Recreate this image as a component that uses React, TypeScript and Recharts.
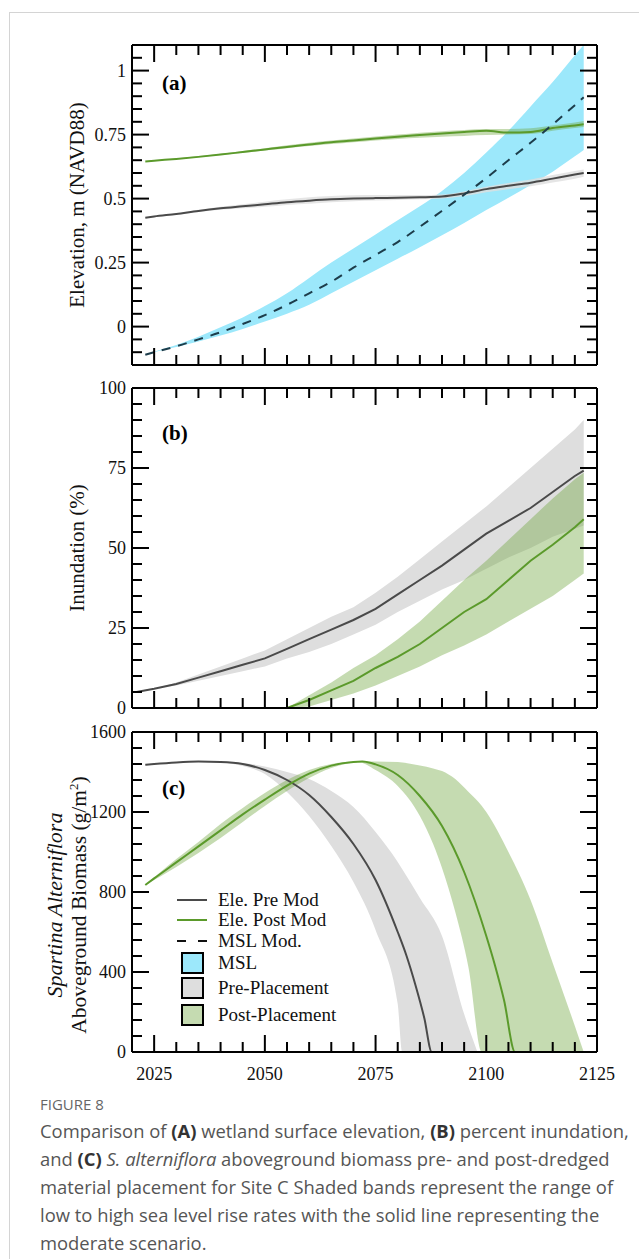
import React from 'react';
import { ComposedChart, Line, Area, XAxis, YAxis, Legend, ReferenceLine } from 'recharts';

const SERIF = '"Liberation Serif", "Times New Roman", serif';
const SANS = '"Open Sans", "Noto Sans", sans-serif';

const GREEN = '#5b9a2b';
const DARK = '#4a4a4a';
const DASH = '#1d3d4b';
const CYAN = '#9ce8fb';
const GRAY_FILL = '#dedede';
const GREEN_FILL = '#6ea53c';

// shared x axis (years)
const X_MIN = 2020;
const X_MAX = 2125;
const xTicks = [2025, 2030, 2035, 2040, 2045, 2050, 2055, 2060, 2065, 2070, 2075, 2080, 2085, 2090, 2095, 2100, 2105, 2110, 2115, 2120, 2125];
const xLabels = [2025, 2050, 2075, 2100, 2125];

// (a) elevation
const aYears = [2023, 2025, 2030, 2035, 2040, 2045, 2050, 2055, 2060, 2065, 2070, 2075, 2080, 2085, 2090, 2095, 2100, 2105, 2110, 2115, 2120, 2122];
const mslLow = [-0.11, -0.1, -0.08, -0.058, -0.035, -0.009, 0.02, 0.05, 0.085, 0.13, 0.175, 0.22, 0.265, 0.31, 0.357, 0.405, 0.455, 0.503, 0.553, 0.605, 0.665, 0.69];
const mslMod = [-0.11, -0.1, -0.077, -0.05, -0.022, 0.01, 0.045, 0.085, 0.13, 0.175, 0.23, 0.28, 0.33, 0.39, 0.452, 0.515, 0.58, 0.65, 0.718, 0.79, 0.865, 0.896];
const mslHigh = [-0.11, -0.098, -0.072, -0.04, -0.003, 0.036, 0.08, 0.13, 0.19, 0.25, 0.305, 0.36, 0.415, 0.47, 0.53, 0.6, 0.68, 0.765, 0.86, 0.955, 1.06, 1.1];
const preA = [0.425, 0.43, 0.44, 0.452, 0.462, 0.47, 0.478, 0.486, 0.492, 0.497, 0.5, 0.502, 0.503, 0.505, 0.508, 0.52, 0.537, 0.55, 0.562, 0.578, 0.594, 0.6];
const preALow = [0.425, 0.43, 0.438, 0.448, 0.456, 0.462, 0.468, 0.475, 0.48, 0.486, 0.49, 0.493, 0.495, 0.497, 0.5, 0.51, 0.525, 0.537, 0.548, 0.563, 0.578, 0.585];
const preAHigh = [0.425, 0.431, 0.443, 0.456, 0.468, 0.478, 0.488, 0.497, 0.505, 0.51, 0.513, 0.514, 0.514, 0.514, 0.516, 0.528, 0.546, 0.561, 0.575, 0.592, 0.608, 0.614];
const postA = [0.645, 0.648, 0.655, 0.663, 0.672, 0.682, 0.692, 0.702, 0.711, 0.72, 0.727, 0.735, 0.742, 0.748, 0.754, 0.76, 0.765, 0.758, 0.76, 0.776, 0.786, 0.79];
const postALow = [0.645, 0.648, 0.655, 0.662, 0.67, 0.679, 0.688, 0.697, 0.705, 0.713, 0.72, 0.727, 0.733, 0.738, 0.742, 0.745, 0.748, 0.75, 0.752, 0.765, 0.776, 0.78];
const postAHigh = [0.645, 0.649, 0.657, 0.666, 0.675, 0.686, 0.697, 0.708, 0.718, 0.727, 0.735, 0.743, 0.75, 0.757, 0.763, 0.768, 0.772, 0.772, 0.775, 0.786, 0.797, 0.803];
const aTickLabels = [0, 0.25, 0.5, 0.75, 1];

// (b) inundation
const bYears = [2021, 2025, 2030, 2035, 2040, 2045, 2050, 2055, 2060, 2065, 2070, 2075, 2080, 2085, 2090, 2095, 2100, 2105, 2110, 2115, 2120, 2122];
const preB = [5, 6, 7.5, 9.5, 11.5, 13.5, 15.5, 18.5, 21.5, 24.5, 27.5, 31, 35.5, 40, 44.5, 49.5, 54.5, 58.5, 62.5, 67.5, 72.5, 74.2];
const preBLow = [5, 6, 7, 8.5, 10, 11.5, 13, 15.5, 17.5, 20, 23, 26, 30, 33.5, 37, 40, 43.5, 47, 50, 53.5, 56, 57];
const preBHigh = [5, 6, 8, 10.5, 13, 15.5, 18, 21.5, 25, 28.5, 31.5, 36, 41, 46.5, 52, 57.5, 63, 69, 75, 81, 87, 90];
const postBYears = [2055, 2060, 2065, 2070, 2075, 2080, 2085, 2090, 2095, 2100, 2105, 2110, 2115, 2120, 2122];
const postB = [0, 2.5, 5.5, 8.5, 12.5, 16, 20, 25, 30, 34, 40, 46, 51, 56.5, 59];
const postBLow = [0, 0.5, 2.5, 4.5, 7, 10, 13, 16.5, 19.5, 23, 27, 31, 35, 40, 42];
const postBHigh = [0, 4, 8, 12.5, 16.5, 21.5, 27, 33.5, 40, 46, 52.5, 59, 65.5, 71.5, 73.5];
const bTickLabels = [0, 25, 50, 75, 100];

// (c) biomass
const preCYears = [2023, 2025, 2030, 2035, 2040, 2045, 2050, 2055, 2060, 2065, 2070, 2075, 2080, 2082, 2084, 2086, 2087.7, 2105];
const preC = [1436, 1440, 1448, 1452, 1450, 1440, 1410, 1360, 1285, 1175, 1040, 860, 600, 480, 335, 170, 0, 0];
const preBandYears = [2023, 2030, 2035, 2040, 2045, 2050, 2055, 2060, 2065, 2070, 2075, 2080, 2081, 2085, 2090, 2095, 2098];
const preCLow = [1436, 1448, 1452, 1448, 1430, 1390, 1300, 1180, 1030, 850, 610, 240, 0, 0, 0, 0, 0];
const preCHigh = [1436, 1449, 1454, 1453, 1445, 1428, 1400, 1365, 1305, 1225, 1100, 950, 915, 770, 580, 190, 0];
const postCYears = [2023, 2025, 2030, 2035, 2040, 2045, 2050, 2055, 2060, 2065, 2070, 2072, 2075, 2080, 2085, 2090, 2095, 2100, 2102, 2104, 2106.5, 2122];
const postC = [835, 868, 948, 1028, 1108, 1188, 1262, 1332, 1392, 1432, 1450, 1452, 1438, 1385, 1280, 1130, 900, 580, 430, 260, 0, 0];
const postBandYears = [2023, 2030, 2035, 2040, 2045, 2050, 2055, 2060, 2065, 2070, 2071, 2075, 2080, 2085, 2088, 2090, 2093, 2096, 2099, 2100, 2105, 2110, 2115, 2120, 2122];
const postCLow = [835, 925, 995, 1070, 1150, 1230, 1305, 1370, 1420, 1448, 1450, 1410, 1330, 1180, 1040, 920, 700, 420, 0, 0, 0, 0, 0, 0, 0];
const postCHigh = [835, 965, 1050, 1140, 1220, 1295, 1360, 1410, 1440, 1452, 1453, 1453, 1450, 1432, 1418, 1405, 1365, 1300, 1230, 1200, 1000, 760, 445, 130, 0];
const cTickLabels = [0, 400, 800, 1200, 1600];

const line = (years: number[], vals: number[]) => years.map((year, i) => ({ year, v: vals[i] }));
const band = (years: number[], lo: number[], hi: number[]) => years.map((year, i) => ({ year, r: [lo[i], hi[i]] }));

const steps = (from: number, step: number, n: number) =>
  Array.from({ length: n }, (_, i) => Math.round((from + i * step) * 1000) / 1000);

const has = (arr: number[], v: number) => arr.some((a) => Math.abs(a - v) < 1e-6);

// plot box (px) and tick lengths
const PLOT_W = 465;
const PLOT_H = 320;
const MAJOR = 17;
const MINOR = 10;

const tickText = { fontFamily: SERIF, fontSize: 18, fill: '#111' };
const ink = { stroke: '#000', strokeWidth: 2, ifOverflow: 'visible' as const };

const bottomLabel = (show: boolean) => (p: any) => {
  const { x, y, payload } = p;
  if (!show || !has(xLabels, payload.value)) return <g />;
  return <text x={x} y={y + 28} textAnchor="middle" {...tickText}>{payload.value}</text>;
};

const leftLabel = (majors: number[]) => (p: any) => {
  const { x, y, payload } = p;
  if (!has(majors, payload.value)) return <g />;
  return <text x={x - 6} y={y + 6} textAnchor="end" {...tickText}>{String(payload.value)}</text>;
};

// inward tick marks on all four sides of the frame
const frameTicks = (yDomain: [number, number], yTicks: number[], yMajors: number[]) => {
  const [y0, y1] = yDomain;
  const yu = (y1 - y0) / PLOT_H;
  const xu = (X_MAX - X_MIN) / PLOT_W;
  const out: React.ReactElement[] = [];
  xTicks.forEach((t) => {
    const len = (has(xLabels, t) ? MAJOR : MINOR) * yu;
    out.push(<ReferenceLine key={`xb${t}`} segment={[{ x: t, y: y0 }, { x: t, y: y0 + len }]} {...ink} />);
    out.push(<ReferenceLine key={`xt${t}`} segment={[{ x: t, y: y1 }, { x: t, y: y1 - len }]} {...ink} />);
  });
  yTicks.forEach((v) => {
    const len = (has(yMajors, v) ? MAJOR : MINOR) * xu;
    out.push(<ReferenceLine key={`yl${v}`} segment={[{ x: X_MIN, y: v }, { x: X_MIN + len, y: v }]} {...ink} />);
    out.push(<ReferenceLine key={`yr${v}`} segment={[{ x: X_MAX, y: v }, { x: X_MAX - len, y: v }]} {...ink} />);
  });
  out.push(<ReferenceLine key="top" y={y1} {...ink} />);
  out.push(<ReferenceLine key="right" x={X_MAX} {...ink} />);
  return out;
};

type PanelProps = {
  top: number;
  bottomAxis: number;
  yDomain: [number, number];
  yTicks: number[];
  yMajors: number[];
  xLabelsOn: boolean;
  children: React.ReactNode;
};

const Panel = ({ top, bottomAxis, yDomain, yTicks, yMajors, xLabelsOn, children }: PanelProps) => (
  <div style={{ position: 'absolute', left: 0, top }}>
    <ComposedChart width={639} height={10 + PLOT_H + bottomAxis} margin={{ top: 10, right: 639 - 132 - PLOT_W, bottom: 0, left: 72 }}>
      <XAxis
        dataKey="year"
        type="number"
        domain={[X_MIN, X_MAX]}
        ticks={xTicks}
        interval={0}
        allowDataOverflow
        height={bottomAxis}
        tickSize={0}
        tickMargin={0}
        tickLine={false}
        axisLine={{ stroke: '#000', strokeWidth: 2 }}
        tick={bottomLabel(xLabelsOn)}
      />
      <YAxis
        type="number"
        domain={yDomain}
        ticks={yTicks}
        interval={0}
        allowDataOverflow
        width={60}
        tickSize={0}
        tickMargin={0}
        tickLine={false}
        axisLine={{ stroke: '#000', strokeWidth: 2 }}
        tick={leftLabel(yMajors)}
      />
      {children}
      {frameTicks(yDomain, yTicks, yMajors)}
    </ComposedChart>
  </div>
);

const LegendBox = () => {
  const rows: { y: number; label: string; kind: string; color: string }[] = [
    { y: 12, label: 'Ele. Pre Mod', kind: 'line', color: DARK },
    { y: 32, label: 'Ele. Post Mod', kind: 'line', color: GREEN },
    { y: 53, label: 'MSL Mod.', kind: 'dash', color: '#111' },
    { y: 75, label: 'MSL', kind: 'box', color: CYAN },
    { y: 100, label: 'Pre-Placement', kind: 'box', color: GRAY_FILL },
    { y: 127, label: 'Post-Placement', kind: 'box', color: '#c5dbb1' },
  ];
  return (
    <svg width={230} height={145} style={{ overflow: 'visible' }}>
      {rows.map((r) => (
        <g key={r.label}>
          {r.kind === 'line' && <line x1={7} x2={37} y1={r.y} y2={r.y} stroke={r.color} strokeWidth={2} />}
          {r.kind === 'dash' && <line x1={7} x2={37} y1={r.y} y2={r.y} stroke={r.color} strokeWidth={2} strokeDasharray="9 12" />}
          {r.kind === 'box' && (
            <rect x={12} y={r.y - 10} width={21} height={20} fill={r.color} stroke="#000" strokeWidth={2} />
          )}
          <text x={48} y={r.y + 6} fontFamily={SERIF} fontSize={19} fill="#111">{r.label}</text>
        </g>
      ))}
    </svg>
  );
};

const panelLabel = (text: string, top: number) => (
  <div style={{ position: 'absolute', left: 162, top, fontFamily: SERIF, fontWeight: 'bold', fontSize: 21, lineHeight: '24px' }}>
    {text}
  </div>
);

// rotated title, centred on (cx, cy)
const axisTitle = (content: React.ReactNode, cx: number, cy: number, size = 21, italic = false) => (
  <div
    style={{
      position: 'absolute',
      left: cx,
      top: cy,
      transform: 'translate(-50%, -50%) rotate(-90deg)',
      whiteSpace: 'nowrap',
      fontFamily: SERIF,
      fontSize: size,
      fontStyle: italic ? 'italic' : 'normal',
      lineHeight: '24px',
      color: '#111',
    }}
  >
    {content}
  </div>
);

const captionLine = (content: React.ReactNode, top: number) => (
  <div style={{ position: 'absolute', left: 40, top, fontFamily: SANS, fontSize: 18.4, lineHeight: '24px', color: '#555', whiteSpace: 'nowrap' }}>
    {content}
  </div>
);

const B = ({ children }: { children: React.ReactNode }) => <b style={{ color: '#333' }}>{children}</b>;

export default function App() {
  return (
    <div style={{ position: 'relative', width: 639, height: 1259, overflow: 'hidden', background: '#fff' }}>
      <style>{'body{margin:0;overflow:hidden}'}</style>
      <div style={{ position: 'absolute', left: 9, top: 12, width: 700, height: 1300, border: '1px solid #d4d4d4' }} />

      <Panel top={35} bottomAxis={10} yDomain={[-0.15, 1.1]} yTicks={steps(-0.1, 0.05, 24)} yMajors={aTickLabels} xLabelsOn={false}>
        <Area data={band(aYears, mslLow, mslHigh)} dataKey="r" type="monotone" stroke="none" fill={CYAN} fillOpacity={1} isAnimationActive={false} />
        <Area data={band(aYears, preALow, preAHigh)} dataKey="r" type="monotone" stroke="none" fill={GRAY_FILL} fillOpacity={0.8} isAnimationActive={false} />
        <Area data={band(aYears, postALow, postAHigh)} dataKey="r" type="monotone" stroke="none" fill={GREEN_FILL} fillOpacity={0.4} isAnimationActive={false} />
        <Line data={line(aYears, preA)} dataKey="v" type="monotone" stroke={DARK} strokeWidth={2} dot={false} activeDot={false} isAnimationActive={false} />
        <Line data={line(aYears, postA)} dataKey="v" type="monotone" stroke={GREEN} strokeWidth={2} dot={false} activeDot={false} isAnimationActive={false} />
        <Line data={line(aYears, mslMod)} dataKey="v" type="monotone" stroke={DASH} strokeWidth={2} strokeDasharray="9 8" dot={false} activeDot={false} isAnimationActive={false} />
      </Panel>

      <Panel top={378} bottomAxis={10} yDomain={[0, 100]} yTicks={steps(0, 5, 21)} yMajors={bTickLabels} xLabelsOn={false}>
        <Area data={band(bYears, preBLow, preBHigh)} dataKey="r" type="linear" stroke="none" fill={GRAY_FILL} fillOpacity={1} isAnimationActive={false} />
        <Area data={band(postBYears, postBLow, postBHigh)} dataKey="r" type="linear" stroke="none" fill={GREEN_FILL} fillOpacity={0.4} isAnimationActive={false} />
        <Line data={line(bYears, preB)} dataKey="v" type="linear" stroke={DARK} strokeWidth={2} dot={false} activeDot={false} isAnimationActive={false} />
        <Line data={line(postBYears, postB)} dataKey="v" type="linear" stroke={GREEN} strokeWidth={2} dot={false} activeDot={false} isAnimationActive={false} />
      </Panel>

      <Panel top={722} bottomAxis={40} yDomain={[0, 1600]} yTicks={steps(0, 80, 21)} yMajors={cTickLabels} xLabelsOn>
        <Area data={band(preBandYears, preCLow, preCHigh)} dataKey="r" type="monotone" stroke="none" fill={GRAY_FILL} fillOpacity={1} isAnimationActive={false} />
        <Area data={band(postBandYears, postCLow, postCHigh)} dataKey="r" type="monotone" stroke="none" fill={GREEN_FILL} fillOpacity={0.4} isAnimationActive={false} />
        <Line data={line(preCYears, preC)} dataKey="v" type="monotone" stroke={DARK} strokeWidth={2} dot={false} activeDot={false} isAnimationActive={false} />
        <Line data={line(postCYears, postC)} dataKey="v" type="monotone" stroke={GREEN} strokeWidth={2} dot={false} activeDot={false} isAnimationActive={false} />
        <Legend
          layout="vertical"
          align="center"
          verticalAlign="middle"
          content={() => <LegendBox />}
          wrapperStyle={{ left: 170, top: 166, width: 230, height: 145 }}
        />
      </Panel>

      {panelLabel('(a)', 71)}
      {panelLabel('(b)', 421)}
      {panelLabel('(c)', 776)}

      {axisTitle('Elevation, m (NAVD88)', 77, 205)}
      {axisTitle('Inundation (%)', 77, 548)}
      {axisTitle('Spartina Alterniflora', 55, 905, 22, true)}
      {axisTitle(<span>Aboveground Biomass (g/m<sup style={{ fontSize: 13 }}>2</sup>)</span>, 77, 905, 21.5)}

      <div style={{ position: 'absolute', left: 40, top: 1094, fontFamily: SANS, fontSize: 15, lineHeight: '20px', color: '#666' }}>FIGURE 8</div>
      {captionLine(<>Comparison of <B>(A)</B> wetland surface elevation, <B>(B)</B> percent inundation,</>, 1119)}
      {captionLine(<>and <B>(C)</B> <i>S. alterniflora</i> aboveground biomass pre- and post-dredged</>, 1147)}
      {captionLine(<>material placement for Site C Shaded bands represent the range of</>, 1175)}
      {captionLine(<>low to high sea level rise rates with the solid line representing the</>, 1203)}
      {captionLine(<>moderate scenario.</>, 1231)}
    </div>
  );
}
